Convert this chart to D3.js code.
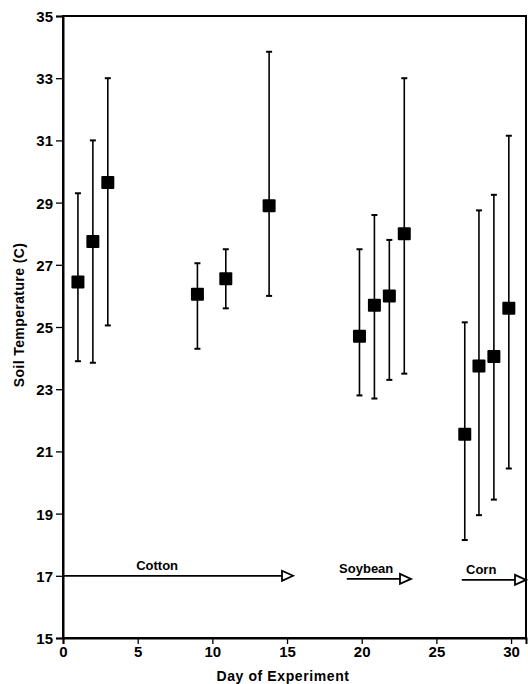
<!DOCTYPE html>
<html>
<head>
<meta charset="utf-8">
<script src="https://d3js.org/d3.v7.min.js"></script>
<style>
  body { margin: 0; background: #fff; }
  svg text { font-family: "Liberation Sans", Arial, sans-serif; fill: #000; }
</style>
</head>
<body>
<div id="chartDiv"></div>
<script>
// days
const days  = [1, 2, 3, 9, 10.9, 13.8, 19.85, 20.85, 21.85, 22.85, 26.9, 27.85, 28.85, 29.85];
const means = [26.45, 27.75, 29.65, 26.05, 26.55, 28.9, 24.7, 25.7, 26.0, 28.0, 21.55, 23.75, 24.05, 25.6];
const lows  = [23.9, 23.85, 25.05, 24.3, 25.6, 26.0, 22.8, 22.7, 23.3, 23.5, 18.15, 18.95, 19.45, 20.45];
const highs = [29.3, 31.0, 33.0, 27.05, 27.5, 33.85, 27.5, 28.6, 27.8, 33.0, 25.15, 28.75, 29.25, 31.15];

// crop arrows: label, start day, end day, level
const crops     = ["Cotton", "Soybean", "Corn"];
const cropStart = [0, 19.0, 26.7];
const cropEnd   = [15.4, 23.3, 31];
const cropLevel = [17, 16.9, 16.87];

const xTicks = [0, 5, 10, 15, 20, 25, 30];
const yTicks = [15, 17, 19, 21, 23, 25, 27, 29, 31, 33, 35];

const W = 528, H = 684;
const margin = { top: 16, right: 2, bottom: 46, left: 63 };

const svg = d3.select("#chartDiv").append("svg")
  .attr("width", W).attr("height", H);

const x = d3.scaleLinear().domain([0, 31]).range([margin.left, W - margin.right]);
const y = d3.scaleLinear().domain([15, 35]).range([H - margin.bottom, margin.top]);

// frame
svg.append("rect")
  .attr("x", x(0)).attr("y", y(35))
  .attr("width", x(31) - x(0)).attr("height", y(15) - y(35))
  .attr("fill", "none").attr("stroke", "#000").attr("stroke-width", 2);

// y axis
const yAxis = svg.append("g").attr("transform", `translate(${x(0)},0)`);
yAxis.call(d3.axisLeft(y).tickValues(d3.range(15, 35.01, 0.5)).tickSize(3).tickFormat(""));
yAxis.call(d3.axisLeft(y).tickValues(yTicks).tickSize(7).tickPadding(3).tickFormat(d3.format("d")));
yAxis.select(".domain").attr("stroke-width", 2);
yAxis.selectAll("line").attr("stroke-width", 1.3);
yAxis.selectAll("text")
  .style("font-size", "15px").style("font-weight", "bold").attr("dy", "0.36em");

// x axis
const xAxis = svg.append("g").attr("transform", `translate(0,${y(15)})`);
xAxis.call(d3.axisBottom(x).tickValues(d3.range(0, 31.01, 1)).tickSize(3).tickFormat(""));
xAxis.call(d3.axisBottom(x).tickValues(xTicks).tickSize(6).tickPadding(2).tickFormat(d3.format("d")));
xAxis.select(".domain").attr("stroke-width", 2);
xAxis.selectAll("line").attr("stroke-width", 1.3);
xAxis.selectAll("text").style("font-size", "15px").style("font-weight", "bold");

// axis titles
svg.append("text")
  .attr("transform", `translate(24,315) rotate(-90)`)
  .attr("text-anchor", "middle")
  .style("font-size", "14px").style("font-weight", "bold").style("letter-spacing", "0.4px")
  .text("Soil Temperature (C)");

svg.append("text")
  .attr("x", 283).attr("y", 681)
  .attr("text-anchor", "middle")
  .style("font-size", "14px").style("font-weight", "bold").style("letter-spacing", "0.6px")
  .text("Day of Experiment");

// error bars
const pts = days.map((d, i) => ({ d, m: means[i], lo: lows[i], hi: highs[i] }));
const g = svg.append("g");
g.selectAll(".bar").data(pts).join("line")
  .attr("x1", p => x(p.d)).attr("x2", p => x(p.d))
  .attr("y1", p => y(p.lo)).attr("y2", p => y(p.hi))
  .attr("stroke", "#000").attr("stroke-width", 1.6);
g.selectAll(".capHi").data(pts).join("line")
  .attr("x1", p => x(p.d) - 3).attr("x2", p => x(p.d) + 3)
  .attr("y1", p => y(p.hi)).attr("y2", p => y(p.hi))
  .attr("stroke", "#000").attr("stroke-width", 2);
g.selectAll(".capLo").data(pts).join("line")
  .attr("x1", p => x(p.d) - 3).attr("x2", p => x(p.d) + 3)
  .attr("y1", p => y(p.lo)).attr("y2", p => y(p.lo))
  .attr("stroke", "#000").attr("stroke-width", 2);
g.selectAll("rect.pt").data(pts).join("rect")
  .attr("x", p => x(p.d) - 6.5).attr("y", p => y(p.m) - 6.5)
  .attr("width", 13).attr("height", 13).attr("rx", 1)
  .attr("fill", "#000");

// crop arrows
crops.forEach((c, i) => {
  const x0 = x(cropStart[i]), x1 = x(cropEnd[i]), yy = y(cropLevel[i]);
  svg.append("line")
    .attr("x1", x0).attr("x2", x1 - 11).attr("y1", yy).attr("y2", yy)
    .attr("stroke", "#000").attr("stroke-width", 1.8);
  svg.append("path")
    .attr("d", `M${x1 - 11},${yy - 5}L${x1},${yy}L${x1 - 11},${yy + 5}Z`)
    .attr("fill", "#fff").attr("stroke", "#000").attr("stroke-width", 1.8);
});
const labelX = [6.3, 20.3, 28.0];
svg.selectAll("text.crop").data(crops).join("text")
  .attr("class", "crop")
  .attr("x", (d, i) => x(labelX[i]))
  .attr("y", (d, i) => y(cropLevel[i]) - 6)
  .attr("text-anchor", "middle")
  .style("font-size", "13px").style("font-weight", "bold")
  .text(d => d);
</script>
</body>
</html>
